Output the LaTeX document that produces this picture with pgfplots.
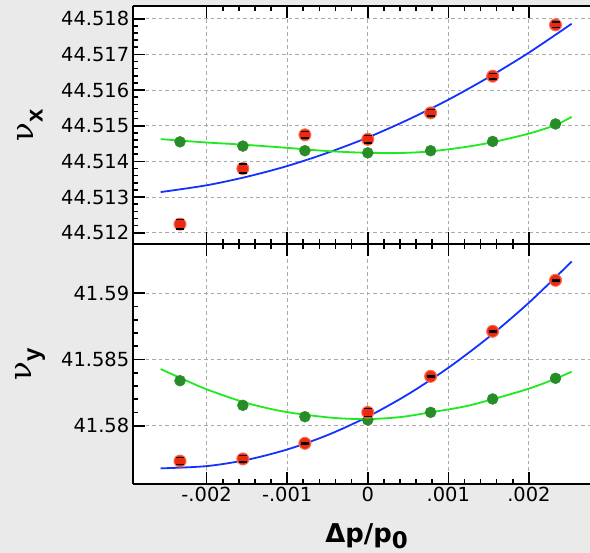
\documentclass[border=0pt]{standalone}
\usepackage{pgfplots}
\pgfplotsset{compat=1.18}
\usepackage{fontspec}
\setmainfont{DejaVu Sans}
\newfontfamily\lsb{Liberation Sans}
\newfontfamily\dvs{DejaVu Serif}
\definecolor{bg}{RGB}{234,234,234}
\definecolor{redm}{RGB}{236,42,18}
\definecolor{redh}{RGB}{250,110,80}
\definecolor{greenm}{RGB}{40,140,40}
\definecolor{fitblue}{RGB}{20,50,255}
\definecolor{fitgreen}{RGB}{30,235,30}
\definecolor{gridc}{RGB}{170,170,170}

\pgfplotsset{
  panel/.style={
    scale only axis, width=457.3bp,
    xmin=-0.002917, xmax=0.002758,
    axis y line*=left,
    axis line style={black, line width=2bp},
    axis background/.style={fill=white},
    tick align=inside,
    major tick length=12bp, minor tick length=5bp,
    every tick/.style={black, line width=1.6bp},
    minor x tick num=4, minor y tick num=4,
    xtick={-0.002,-0.001,0,0.001,0.002},
    scaled x ticks=false, scaled y ticks=false,
    grid=major,
    major grid style={gridc, line width=1bp, dash pattern=on 3.5bp off 3bp},
    tick label style={font=\fontsize{19.5}{19.5}\selectfont},
    /pgf/number format/assume math mode=true,
    unbounded coords=jump,
    every axis y label/.style={at={(axis description cs:-0.2246,0.5)}, rotate=90, anchor=center},
  },
  redpts/.style={only marks, mark=*, mark size=6bp, mark options={fill=redm, draw=redh, line width=1bp}},
  greenpts/.style={only marks, mark=*, mark size=5.5bp, mark options={fill=greenm, draw=greenm}},
  errs/.style={black, line width=1.6bp, mark=-, mark size=4bp, mark options={solid, black, line width=1.6bp}, forget plot},
}

\begin{document}
\begin{tikzpicture}
\fill[bg] (0,0) rectangle (590bp,553bp);

% ---------------- top panel: nu_x ----------------
\begin{axis}[panel,
  at={(132.7bp,309bp)}, anchor=south west, height=237.5bp,
  ymin=44.511684, ymax=44.518344,
  ytick={44.512,44.513,44.514,44.515,44.516,44.517,44.518},
  yticklabels={44.512,44.513,44.514,44.515,44.516,44.517,44.518},
  xticklabels={},
  ylabel={{\dvs\fontsize{31}{31}\selectfont ν}\raisebox{-9bp}{\lsb\bfseries\fontsize{24}{24}\selectfont x}},
]
\addplot[fitblue, line width=1.8bp, smooth] coordinates {
(-0.00257,44.51314) (-0.0020,44.51333) (-0.0015,44.51357) (-0.0010,44.51387)
(-0.0005,44.51424) (0,44.51467) (0.0005,44.51517) (0.0010,44.51573)
(0.0015,44.51636) (0.0020,44.51705) (0.00253,44.51786)};
\addplot[fitgreen, line width=1.8bp, smooth] coordinates {
(-0.00257,44.514625) (-0.0020,44.51453) (-0.00155,44.51447) (-0.0010,44.51438)
(-0.0005,44.51429) (0,44.51424) (0.0004,44.514235) (0.00077,44.51428)
(0.0012,44.5144) (0.00155,44.51454) (0.0020,44.51478) (0.00233,44.51502) (0.00253,44.51525)};
\addplot[greenpts] coordinates {
(-0.00233,44.51455) (-0.00155,44.51443) (-0.00078,44.51430) (0,44.51424)
(0.00078,44.51430) (0.00155,44.51456) (0.00233,44.51505)};
\addplot[redpts] coordinates {
(-0.00233,44.51224) (-0.00155,44.51380) (-0.00078,44.514745) (0,44.51462)
(0.00078,44.51536) (0.00155,44.51639) (0.00233,44.51783)};
% error bars (low, high) of the red points
\addplot[errs] coordinates {
(-0.00233,44.51211) (-0.00233,44.51237) (-0.00233,nan)
(-0.00155,44.51367) (-0.00155,44.51393) (-0.00155,nan)
(-0.00078,44.514655) (-0.00078,44.514835) (-0.00078,nan)
(0,44.51451) (0,44.51473) (0,nan)
(0.00078,44.51527) (0.00078,44.51545) (0.00078,nan)
(0.00155,44.51631) (0.00155,44.51647) (0.00155,nan)
(0.00233,44.51775) (0.00233,44.51791)
};
\end{axis}

% ---------------- bottom panel: nu_y ----------------
\begin{axis}[panel,
  at={(132.7bp,69bp)}, anchor=south west, height=240bp,
  ymin=41.5756, ymax=41.59372,
  ytick={41.58,41.585,41.59},
  yticklabels={41.58,41.585,41.59},
  xticklabels={-.002,-.001,0,.001,.002},
  ylabel={{\dvs\fontsize{31}{31}\selectfont ν}\raisebox{-9bp}{\lsb\bfseries\fontsize{24}{24}\selectfont y}},
  xlabel={\bfseries\fontsize{26}{26}\selectfont Δp/p\raisebox{-6bp}{\fontsize{23}{23}\selectfont 0}},
  every axis x label/.style={at={(axis description cs:0.5113,0)}, anchor=base, yshift=-58bp},
]
\addplot[fitblue, line width=1.8bp, smooth] coordinates {
(-0.00257,41.57678) (-0.0020,41.57695) (-0.0015,41.577425) (-0.0010,41.578205)
(-0.0005,41.57929) (0,41.58068) (0.0005,41.582375) (0.0010,41.584375)
(0.0015,41.58668) (0.0020,41.58929) (0.00253,41.59239)};
\addplot[fitgreen, line width=1.8bp, smooth] coordinates {
(-0.00257,41.58428) (-0.00233,41.58362) (-0.0020,41.58275) (-0.00155,41.5818)
(-0.00117,41.58122) (-0.00084,41.58088) (-0.0004,41.58058) (0,41.5805)
(0.0004,41.58065) (0.00077,41.581) (0.0012,41.58145) (0.00155,41.582)
(0.0020,41.5828) (0.00233,41.58355) (0.00253,41.58408)};
\addplot[greenpts] coordinates {
(-0.00233,41.58340) (-0.00155,41.58154) (-0.00078,41.58068) (0,41.58043)
(0.00078,41.58101) (0.00155,41.58202) (0.00233,41.58358)};
\addplot[redpts] coordinates {
(-0.00233,41.57733) (-0.00155,41.57749) (-0.00078,41.57867) (0,41.58101)
(0.00078,41.58373) (0.00155,41.58713) (0.00233,41.59098)};
% error bars (low, high) of the red points
\addplot[errs] coordinates {
(-0.00233,41.57707) (-0.00233,41.57759) (-0.00233,nan)
(-0.00155,41.57724) (-0.00155,41.57774) (-0.00155,nan)
(-0.00078,41.57861) (-0.00078,41.57873) (-0.00078,nan)
(0,41.58071) (0,41.58131) (0,nan)
(0.00078,41.58367) (0.00078,41.58379) (0.00078,nan)
(0.00155,41.58707) (0.00155,41.58719) (0.00155,nan)
(0.00233,41.59092) (0.00233,41.59104)
};
\end{axis}
\pgfresetboundingbox
\path (0,0) rectangle (590bp,553bp);
\end{tikzpicture}
\end{document}
